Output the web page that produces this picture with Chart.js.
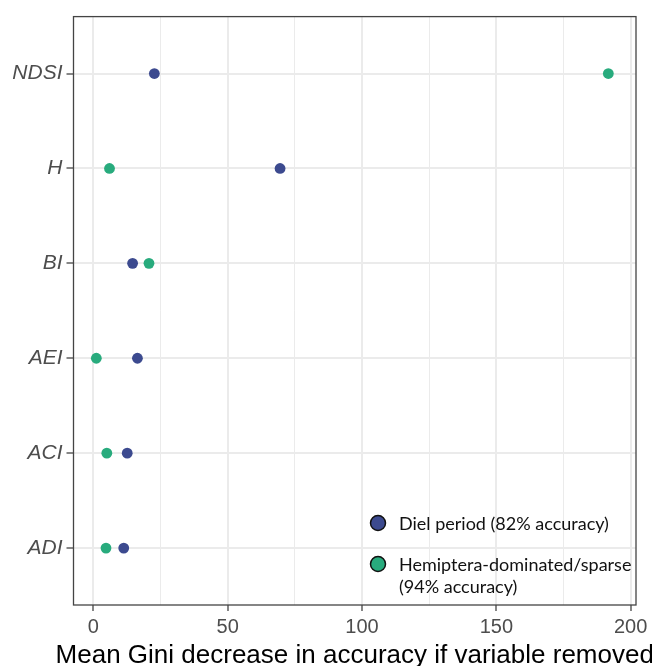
<!DOCTYPE html>
<html>
<head>
<meta charset="utf-8">
<script src="https://cdn.jsdelivr.net/npm/chart.js@4"></script>
<style>
  html, body { margin: 0; padding: 0; background: #ffffff; }
  #wrap { width: 652px; height: 666px; }
</style>
</head>
<body>
<div id="wrap"><canvas id="giniChart" width="652" height="666"></canvas></div>
<script>
// Variables (top to bottom)
const categories = ['NDSI', 'H', 'BI', 'AEI', 'ACI', 'ADI'];

// Mean Gini decrease per variable, same order as categories
const dielValues = [22.7, 69.5, 14.6, 16.4, 12.6, 11.3];
const hemipteraValues = [191.7, 6.0, 20.7, 1.1, 5.0, 4.7];

const seriesLabels = [
    ['Diel period (82% accuracy)'],
    ['Hemiptera-dominated/sparse', '(94% accuracy)']
];
const seriesColors = ['#3c4a8f', '#28ab7d'];

const xMajorTicks = [0, 50, 100, 150, 200];
const xMinorTicks = [25, 75, 125, 175];
const xTitle = 'Mean Gini decrease in accuracy if variable removed';

function toPoints(values) {
    return values.map((v, i) => ({ x: v, y: i }));
}

// Full panel border like theme_bw
const panelBorder = {
    id: 'panelBorder',
    afterDatasetsDraw(chart) {
        const { ctx, chartArea: a } = chart;
        ctx.save();
        ctx.strokeStyle = '#444444';
        ctx.lineWidth = 1.3;
        ctx.strokeRect(a.left, a.top, a.right - a.left, a.bottom - a.top);
        ctx.restore();
    }
};

// x title drawn by hand: the scale title would be squeezed to the panel width
const wideXTitle = {
    id: 'wideXTitle',
    afterDraw(chart) {
        const { ctx, chartArea: a } = chart;
        ctx.save();
        ctx.font = '26px "Liberation Sans", Arial';
        ctx.fillStyle = '#000000';
        ctx.textAlign = 'center';
        ctx.textBaseline = 'alphabetic';
        ctx.fillText(xTitle, (a.left + a.right) / 2, a.bottom + 58);
        ctx.restore();
    }
};

// Legend drawn inside the panel, bottom right
const insideLegend = {
    id: 'insideLegend',
    afterDraw(chart) {
        const { ctx, chartArea: a } = chart;
        const cx = a.right - 258;
        const rows = [a.bottom - 82, a.bottom - 41];
        ctx.save();
        ctx.font = '18px Lato';
        ctx.textBaseline = 'middle';
        rows.forEach((y, i) => {
            ctx.beginPath();
            ctx.arc(cx, y, 7.5, 0, Math.PI * 2);
            ctx.fillStyle = seriesColors[i];
            ctx.fill();
            ctx.lineWidth = 1.5;
            ctx.strokeStyle = '#111111';
            ctx.stroke();
            ctx.fillStyle = '#111111';
            seriesLabels[i].forEach((line, j) => {
                ctx.fillText(line, cx + 21, y + 1 + j * 22.5);
            });
        });
        ctx.restore();
    }
};

const ctx = document.getElementById('giniChart').getContext('2d');
const chart = new Chart(ctx, {
    type: 'scatter',
    data: {
        datasets: [
            {
                label: seriesLabels[0].join(' '),
                data: toPoints(dielValues),
                backgroundColor: seriesColors[0],
                borderWidth: 0,
                pointRadius: 5.4,
                pointHoverRadius: 5.4
            },
            {
                label: seriesLabels[1].join(' '),
                data: toPoints(hemipteraValues),
                backgroundColor: seriesColors[1],
                borderWidth: 0,
                pointRadius: 5.4,
                pointHoverRadius: 5.4
            }
        ]
    },
    options: {
        responsive: false,
        animation: false,
        layout: {
            padding: { left: 0, right: 16, top: 13.5, bottom: 0 }
        },
        plugins: {
            legend: { display: false },
            tooltip: { enabled: false }
        },
        scales: {
            x: {
                type: 'linear',
                min: -7.4,
                max: 202,
                afterBuildTicks(scale) {
                    scale.ticks = xMajorTicks.concat(xMinorTicks)
                        .sort((a, b) => a - b)
                        .map(v => ({ value: v }));
                },
                afterFit(scale) {
                    scale.height = 61;
                },
                grid: {
                    color: '#ebebeb',
                    lineWidth: c => xMajorTicks.includes(c.tick.value) ? 2 : 1,
                    drawTicks: true,
                    tickLength: 6,
                    tickColor: c => xMajorTicks.includes(c.tick.value) ? '#444444' : 'rgba(0,0,0,0)',
                    tickWidth: 1.3
                },
                border: { display: false },
                ticks: {
                    autoSkip: false,
                    maxRotation: 0,
                    padding: 4,
                    color: '#4d4d4d',
                    font: { family: '"Liberation Sans", Arial', size: 20 },
                    callback: v => xMajorTicks.includes(v) ? String(v) : ''
                },
                title: { display: false }
            },
            y: {
                type: 'linear',
                reverse: true,
                min: -0.6,
                max: 5.6,
                afterBuildTicks(scale) {
                    scale.ticks = categories.map((c, i) => ({ value: i }));
                },
                afterFit(scale) {
                    scale.width = 73.5;
                },
                grid: {
                    color: '#ebebeb',
                    lineWidth: 2,
                    drawTicks: true,
                    tickLength: 7,
                    tickColor: '#444444',
                    tickWidth: 1.3
                },
                border: { display: false },
                ticks: {
                    autoSkip: false,
                    padding: 4,
                    color: '#4d4d4d',
                    font: { family: '"Liberation Sans", Arial', size: 21, style: 'italic' },
                    callback: v => categories[v]
                }
            }
        }
    },
    plugins: [panelBorder, wideXTitle, insideLegend]
});
</script>
</body>
</html>
